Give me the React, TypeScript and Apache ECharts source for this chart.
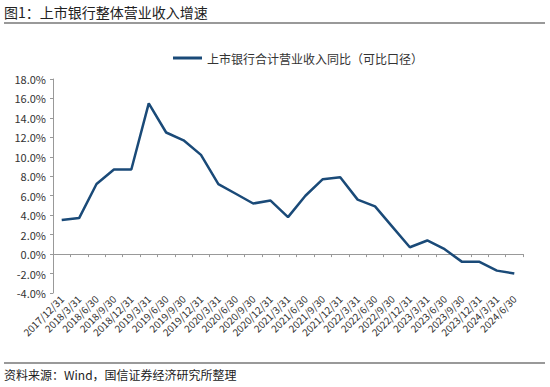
import React, { useEffect, useRef } from "react";
import * as echarts from "echarts";

const categories = [
  "2017/12/31", "2018/3/31", "2018/6/30", "2018/9/30", "2018/12/31",
  "2019/3/31", "2019/6/30", "2019/9/30", "2019/12/31",
  "2020/3/31", "2020/6/30", "2020/9/30", "2020/12/31",
  "2021/3/31", "2021/6/30", "2021/9/30", "2021/12/31",
  "2022/3/31", "2022/6/30", "2022/9/30", "2022/12/31",
  "2023/3/31", "2023/6/30", "2023/9/30", "2023/12/31",
  "2024/3/31", "2024/6/30",
];

const revenueGrowth = [
  3.5, 3.7, 7.2, 8.7, 8.7,
  15.5, 12.5, 11.7, 10.2,
  7.2, 6.2, 5.2, 5.5,
  3.8, 6.0, 7.7, 7.9,
  5.6, 4.9, 2.8, 0.7,
  1.4, 0.5, -0.8, -0.8,
  -1.7, -2.0,
];

const seriesName = "上市银行合计营业收入同比（可比口径）";
const titleText = "图1：上市银行整体营业收入增速";
const sourceText = "资料来源：Wind，国信证券经济研究所整理";

const FONT = "'Noto Sans CJK SC', 'Noto Sans', sans-serif";

export default function App() {
  const ref = useRef<HTMLDivElement>(null);

  useEffect(() => {
    if (!ref.current) return;
    const chart = echarts.init(ref.current, null, { renderer: "svg" });
    chart.setOption({
      animation: false,
      backgroundColor: "#ffffff",
      textStyle: { fontFamily: FONT },
      graphic: [
        {
          type: "text",
          left: 4,
          top: 5,
          style: { text: titleText, fontSize: 14, fill: "#222", fontFamily: FONT },
        },
        {
          type: "rect",
          shape: { x: 4, y: 22, width: 541, height: 2 },
          style: { fill: "#999" },
        },
        {
          type: "rect",
          shape: { x: 4, y: 362, width: 541, height: 2 },
          style: { fill: "#999" },
        },
        {
          type: "text",
          left: 4,
          top: 368,
          style: { text: sourceText, fontSize: 12, fill: "#222", fontFamily: FONT },
        },
      ],
      legend: {
        left: 168,
        top: 47,
        icon: "rect",
        itemWidth: 29,
        itemHeight: 3,
        itemGap: 10,
        textStyle: { fontSize: 12, color: "#333", fontFamily: FONT },
        data: [seriesName],
      },
      grid: { left: 53, right: 27, top: 79, bottom: 94, containLabel: false },
      xAxis: [
        {
          type: "category",
          data: categories,
          position: "bottom",
          boundaryGap: true,
          axisLine: { show: false, onZero: false },
          axisTick: { show: false },
          axisLabel: {
            rotate: 45,
            fontSize: 10,
            color: "#333",
            margin: 4,
            interval: 0,
            fontFamily: FONT,
          },
        },
        {
          type: "category",
          data: categories,
          position: "bottom",
          boundaryGap: true,
          axisLine: { show: true, onZero: true, lineStyle: { color: "#999", width: 1 } },
          axisTick: { show: true, length: 3, interval: 0, lineStyle: { color: "#999" } },
          axisLabel: { show: false },
        },
      ],
      yAxis: {
        type: "value",
        min: -4,
        max: 18,
        interval: 2,
        axisLine: { show: true, lineStyle: { color: "#999", width: 1 } },
        axisTick: { show: true, length: 3, lineStyle: { color: "#999" } },
        splitLine: { show: false },
        axisLabel: {
          fontSize: 11,
          color: "#333",
          margin: 7,
          fontFamily: FONT,
          formatter: (v: number) => v.toFixed(1) + "%",
        },
      },
      series: [
        {
          name: seriesName,
          type: "line",
          xAxisIndex: 0,
          data: revenueGrowth,
          symbol: "none",
          lineStyle: { color: "#1a4a78", width: 2.5 },
          itemStyle: { color: "#1a4a78" },
        },
      ],
    });
    return () => chart.dispose();
  }, []);

  return (
    <div
      ref={ref}
      style={{ position: "fixed", left: 0, top: 0, width: 550, height: 387 }}
    />
  );
}
